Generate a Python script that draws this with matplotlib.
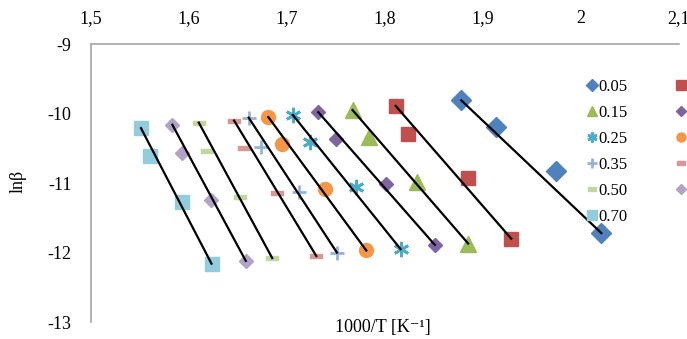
import numpy as np
import matplotlib
matplotlib.use('Agg')
import matplotlib.pyplot as plt

plt.rcParams['font.family'] = ['Liberation Serif', 'DejaVu Serif']

# heating-rate series (labels)
labels = ['0.05', '0.10', '0.15', '0.20', '0.25', '0.30', '0.35', '0.40', '0.50', '0.60', '0.70']

x_005 = [1.878, 1.913, 1.975, 2.021]
y_005 = [-9.81, -10.20, -10.83, -11.72]
x_010 = [1.811, 1.824, 1.885, 1.929]
y_010 = [-9.89, -10.29, -10.92, -11.80]
x_015 = [1.767, 1.784, 1.833, 1.885]
y_015 = [-9.95, -10.34, -10.99, -11.87]
x_020 = [1.732, 1.750, 1.801, 1.851]
y_020 = [-9.98, -10.37, -11.02, -11.89]
x_025 = [1.706, 1.724, 1.771, 1.816]
y_025 = [-10.02, -10.41, -11.06, -11.95]
x_030 = [1.681, 1.695, 1.739, 1.781]
y_030 = [-10.05, -10.44, -11.09, -11.97]
x_035 = [1.661, 1.674, 1.712, 1.751]
y_035 = [-10.06, -10.48, -11.13, -12.00]
x_040 = [1.646, 1.656, 1.690, 1.730]
y_040 = [-10.10, -10.49, -11.15, -12.05]
x_050 = [1.610, 1.618, 1.652, 1.685]
y_050 = [-10.13, -10.54, -11.20, -12.08]
x_060 = [1.583, 1.593, 1.622, 1.658]
y_060 = [-10.16, -10.57, -11.24, -12.12]
x_070 = [1.551, 1.560, 1.593, 1.623]
y_070 = [-10.21, -10.61, -11.27, -12.16]

xs = [x_005, x_010, x_015, x_020, x_025, x_030, x_035, x_040, x_050, x_060, x_070]
ys = [y_005, y_010, y_015, y_020, y_025, y_030, y_035, y_040, y_050, y_060, y_070]

xticks = [1.5, 1.6, 1.7, 1.8, 1.9, 2.0, 2.1]
xticklabels = ['1,5', '1,6', '1,7', '1,8', '1,9', '2', '2,1']
yticks = [-9, -10, -11, -12, -13]
yticklabels = ['-9', '-10', '-11', '-12', '-13']

dash = [(-1, -0.38), (1, -0.38), (1, 0.38), (-1, 0.38), (-1, -0.38)]
styles = [
    dict(marker='D', color='#4F81BD', ms=10),
    dict(marker='s', color='#C0504D', ms=10),
    dict(marker='^', color='#9BBB59', ms=11),
    dict(marker='D', color='#8064A2', ms=7.5),
    dict(marker=(6, 2, 0), color='#4BACC6', ms=11, mew=2),
    dict(marker='o', color='#F79646', ms=10),
    dict(marker='+', color='#95B3D7', ms=10, mew=2),
    dict(marker=dash, color='#D99694', ms=9),
    dict(marker=dash, color='#C3D69B', ms=9),
    dict(marker='D', color='#B3A2C7', ms=7.5),
    dict(marker='s', color='#93CDDD', ms=10),
]

fig = plt.figure(figsize=(6.87, 3.39), dpi=100)
ax = fig.add_axes([0.1325, 0.050, 0.8555, 0.820])

handles = []
for x, y, lab, st in zip(xs, ys, labels, styles):
    st = dict(st)
    c = st.pop('color')
    h, = ax.plot(x, y, ls='none', color=c, mec=c, label=lab, zorder=2, **st)
    handles.append(h)
    # straight line from first to last point
    ax.plot([x[0], x[-1]], [y[0], y[-1]], color='black', lw=1.6, zorder=3)

ax.set_xlim(1.5, 2.1)
ax.set_ylim(-13, -9)
ax.xaxis.tick_top()
ax.set_xticks(xticks)
ax.set_xticklabels(xticklabels, fontsize=13)
ax.set_yticks(yticks)
ax.set_yticklabels(yticklabels, fontsize=13)
ax.tick_params(axis='x', length=0, pad=12)
ax.tick_params(axis='y', length=0, pad=14)
for s in ['bottom', 'right']:
    ax.spines[s].set_visible(False)
for s in ['top', 'left']:
    ax.spines[s].set_color('#a6a6a6')
    ax.spines[s].set_linewidth(1.2)

fig.text(0.558, 0.035, '1000/T [K\u207b\u00b9]', fontsize=13, ha='center', va='center')
fig.text(0.027, 0.465, 'ln\u03b2', fontsize=13, ha='center', va='center', rotation=90)

order = [0, 2, 4, 6, 8, 10, 1, 3, 5, 7, 9]
fig.legend([handles[i] for i in order], [labels[i] for i in order], ncol=2,
           loc='upper left', bbox_to_anchor=(0.845, 0.786), frameon=False,
           fontsize=12, markerscale=0.65, handlelength=0.6, handletextpad=0.1,
           columnspacing=2.9, labelspacing=0.6, borderaxespad=0)

fig.savefig('out.png', dpi=100)
